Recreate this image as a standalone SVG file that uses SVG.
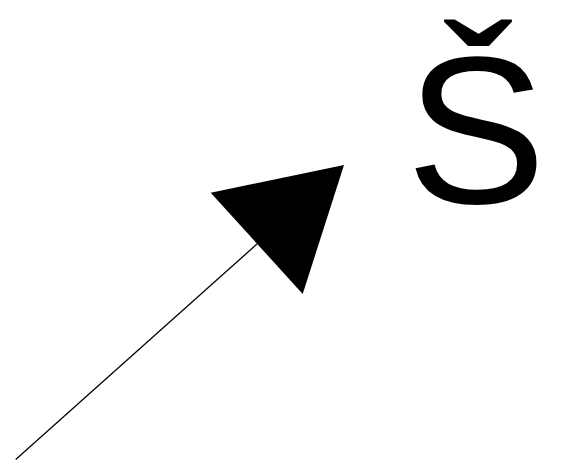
<svg xmlns="http://www.w3.org/2000/svg" width="573" height="474" viewBox="0 0 573 474">
<style>
.lbl{font-family:"Liberation Sans",Arial,sans-serif;font-size:210px;fill:#000}
.edge{stroke:#000;stroke-width:1.3;fill:none}
</style>
<rect width="573" height="474" fill="#fff"/>
<g id="connectors">
<line class="edge" x1="15.7" y1="459.5" x2="257" y2="244"/>
<polygon points="344,165 210.7,192.7 302.7,294" fill="#000"/>
</g>
<g id="label">
<text class="lbl" x="476" y="203" text-anchor="middle">Š</text>
</g>
</svg>
